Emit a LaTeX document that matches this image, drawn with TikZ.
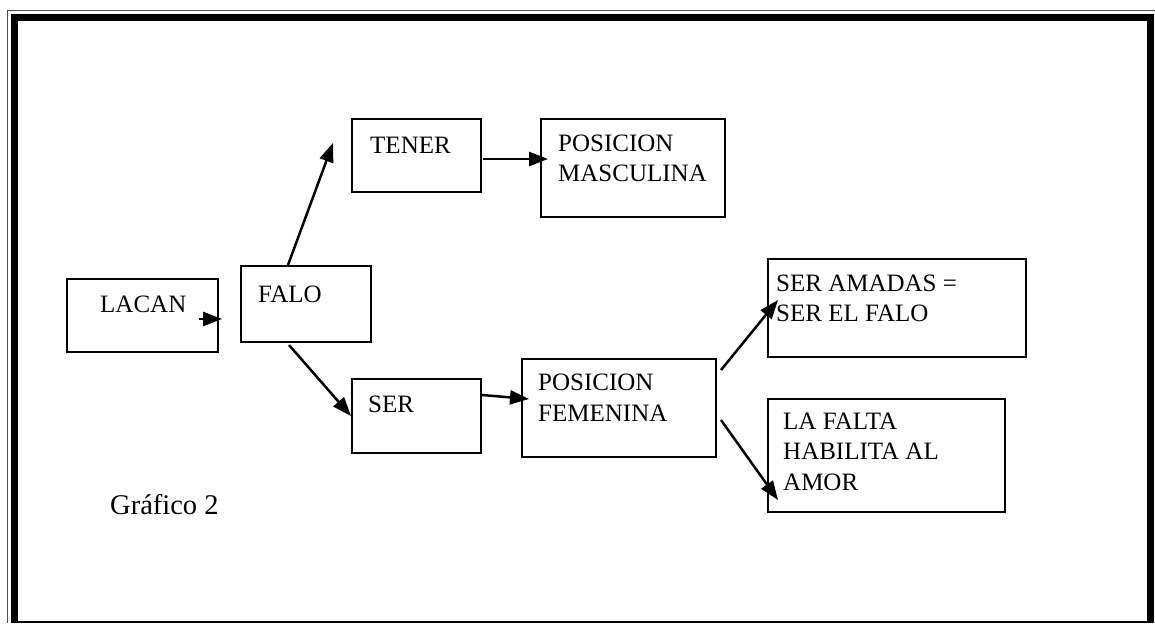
\documentclass[tikz,border=0pt]{standalone}
\usepackage{fontspec}
\setmainfont{Liberation Serif}
\usetikzlibrary{arrows.meta,fit}
\begin{document}
\begin{tikzpicture}[x=1pt,y=-1pt,
  box/.style={draw, line width=2.2pt, inner sep=0pt},
  lbl/.style={anchor=base west, inner sep=0pt, align=left, font=\fontsize{25}{30.5}\selectfont},
  arr/.style={line width=2.5pt, -{Triangle[length=19pt,width=14pt]}}]
\useasboundingbox (0,0) rectangle (1155,623);
% page frame
\draw[line width=1pt, gray!60!black] (7.5,623) -- (7.5,10.5) -- (1155,10.5);
\draw[line width=7pt] (14.5,623) -- (14.5,17.5) -- (1150.5,17.5) -- (1150.5,623);
\draw[line width=1.5pt] (18,622) -- (1147,622);
% boxes
\node[box, fit={(67,279) (218,352)}] (lacan) {};
\node[box, fit={(241,266) (371,342)}] (falo) {};
\node[box, fit={(352,119) (481,192)}] (tener) {};
\node[box, fit={(541,119) (725,217)}] (masc) {};
\node[box, fit={(352,379) (481,453)}] (ser) {};
\node[box, fit={(522,359) (716,457)}] (fem) {};
\node[box, fit={(768,259) (1026,357)}] (amadas) {};
\node[box, fit={(768,399) (1005,512)}] (falta) {};
% texts (anchored at the baseline of the last line)
\node[lbl] (lacan-t) at (100,312) {LACAN};
\node[lbl] (falo-t) at (258,302) {FALO};
\node[lbl] (tener-t) at (370,153) {TENER};
\node[lbl] (masc-t) at (558,181.5) {POSICION\\MASCULINA};
\node[lbl] (ser-t) at (368,412) {SER};
\node[lbl] (fem-t) at (538,421) {POSICION\\FEMENINA};
\node[lbl] (amadas-t) at (776,321.5) {SER AMADAS =\\SER EL FALO};
\node[lbl] (falta-t) at (783,490) {LA FALTA\\HABILITA AL\\AMOR};
\node[lbl, font=\fontsize{28.5}{34}\selectfont] (graf) at (110,514) {Gráfico 2};
% connector end points
\coordinate (a1) at (199,319); \coordinate (b1) at (222,319);
\coordinate (a2) at (288,265); \coordinate (b2) at (333,143);
\coordinate (a3) at (483,159); \coordinate (b3) at (548,159);
\coordinate (a4) at (289,345); \coordinate (b4) at (351,416);
\coordinate (a5) at (482,395); \coordinate (b5) at (529,399);
\coordinate (a6) at (721,370); \coordinate (b6) at (778,300);
\coordinate (a7) at (721,420); \coordinate (b7) at (778,500);
\foreach \i in {1,...,7} \draw[arr] (a\i) -- (b\i);
\end{tikzpicture}
\end{document}
